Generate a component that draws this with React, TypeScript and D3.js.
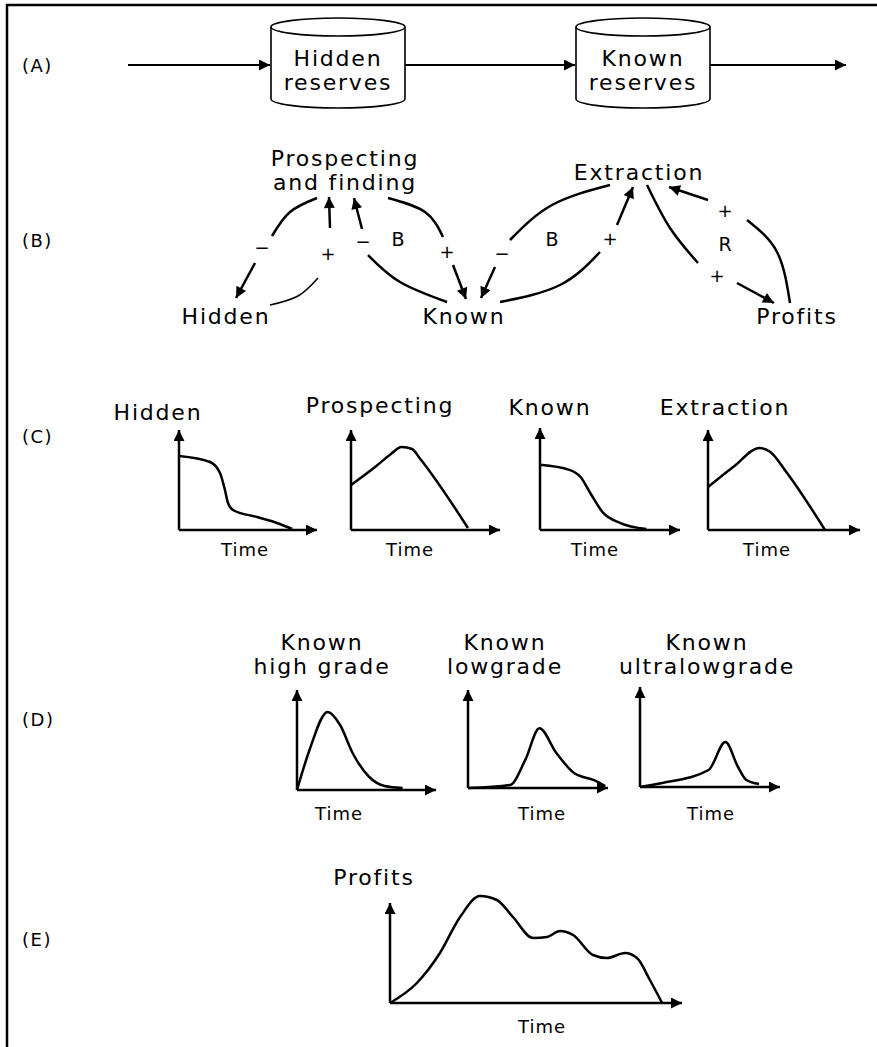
import React from 'react'
import * as d3 from 'd3'

const FONT = "'DejaVu Sans', Verdana, sans-serif"

// section letters down the left side
const sectionLabels = ['(A)', '(B)', '(C)', '(D)', '(E)']
const sectionBaselines = [72, 247, 443, 726, 946]

// (A) stock names
const stockLines = [['Hidden', 'reserves'], ['Known', 'reserves']]

// (B) causal loop nodes and polarities
const loopNodeLines = [['Prospecting', 'and finding'], ['Hidden'], ['Known'], ['Extraction'], ['Profits']]
const loopSigns = ['−', '+', '−', '+', '−', '+', '+', '+']
const loopNames = ['B', 'B', 'R']

// (C) behaviour over time, [time, level]
const hiddenSeries: [number, number][] = [[0, 0.74], [0.225, 0.68], [0.297, 0.57], [0.333, 0.4], [0.355, 0.27], [0.391, 0.2], [0.565, 0.13], [0.71, 0.07], [0.82, 0.01]]
const prospectingSeries: [number, number][] = [[0, 0.45], [0.17, 0.64], [0.26, 0.75], [0.34, 0.83], [0.41, 0.81], [0.46, 0.72], [0.785, 0.02]]
const knownSeries: [number, number][] = [[0, 0.64], [0.21, 0.59], [0.29, 0.52], [0.36, 0.36], [0.45, 0.17], [0.57, 0.07], [0.76, 0.01]]
const extractionSeries: [number, number][] = [[0, 0.43], [0.166, 0.63], [0.34, 0.82], [0.41, 0.78], [0.52, 0.57], [0.77, 0]]

// (D) grades
const highGradeSeries: [number, number][] = [[0, 0], [0.09, 0.4], [0.22, 0.78], [0.31, 0.65], [0.4, 0.37], [0.52, 0.13], [0.63, 0.04], [0.76, 0.02]]
const lowGradeSeries: [number, number][] = [[0, 0], [0.3, 0.03], [0.41, 0.29], [0.51, 0.61], [0.63, 0.36], [0.76, 0.15], [0.9, 0.08], [0.98, 0.02]]
const ultraLowGradeSeries: [number, number][] = [[0, 0], [0.16, 0.04], [0.49, 0.17], [0.61, 0.45], [0.7, 0.2], [0.76, 0.07], [0.85, 0.03]]

// (E) profits
const profitSeries: [number, number][] = [[0, 0], [0.092, 0.2], [0.171, 0.5], [0.24, 0.86], [0.308, 1.07], [0.366, 1.03], [0.421, 0.86], [0.49, 0.65], [0.538, 0.66], [0.582, 0.72], [0.627, 0.68], [0.695, 0.48], [0.743, 0.45], [0.805, 0.5], [0.846, 0.45], [0.89, 0.23], [0.932, 0]]

const timeLabel = 'Time'

// layout
const stockBoxes = [{ x1: 271, x2: 405 }, { x1: 576, x2: 710 }]
const flowArrows = [[128, 270], [405, 575], [710, 846]]
const flowY = 65

const nodePos = [[345, 166], [226, 324], [464, 324], [639, 180], [797, 324]]
const links = [
  { curve: [[317, 198], [290, 212], [272, 236]], arrow: [[255, 263], [236, 298]], sign: [262, 254], w: 2.5 },
  { curve: [[270, 305], [298, 296], [318, 278]], arrow: [[330, 228], [329, 197]], sign: [328, 260], w: 1.5 },
  { curve: [[447, 302], [400, 282], [368, 255]], arrow: [[362, 229], [354, 198]], sign: [363, 248], w: 2.5 },
  { curve: [[388, 198], [425, 212], [443, 237]], arrow: [[453, 265], [466, 299]], sign: [447, 258], w: 2.5 },
  { curve: [[610, 185], [552, 205], [510, 240]], arrow: [[495, 267], [481, 298]], sign: [502, 260], w: 2.5 },
  { curve: [[500, 302], [560, 285], [600, 252]], arrow: [[617, 225], [633, 187]], sign: [610, 245], w: 2.5 },
  { curve: [[647, 185], [670, 228], [698, 263]], arrow: [[737, 283], [774, 303]], sign: [717, 282], w: 2.5 },
  { curve: [[790, 303], [777, 252], [747, 220]], arrow: [[708, 200], [669, 187]], sign: [725, 217], w: 2.5 },
]
const loopNamePos = [[398, 246], [552, 246], [725, 251]]

type Panel = {
  series: [number, number][]; title: string[]; x0: number; y0: number; w: number; h: number
  titleX: number; titleY: number; timeX: number; timeY: number
}

const panels: Panel[] = [
  { series: hiddenSeries, title: ['Hidden'], x0: 179, y0: 530, w: 138, h: 100, titleX: 158, titleY: 420, timeX: 245, timeY: 556 },
  { series: prospectingSeries, title: ['Prospecting'], x0: 351, y0: 530, w: 149, h: 100, titleX: 380, titleY: 413, timeX: 410, timeY: 556 },
  { series: knownSeries, title: ['Known'], x0: 540, y0: 530, w: 140, h: 102, titleX: 550, titleY: 415, timeX: 595, timeY: 556 },
  { series: extractionSeries, title: ['Extraction'], x0: 708, y0: 530, w: 152, h: 100, titleX: 725, titleY: 415, timeX: 767, timeY: 556 },
  { series: highGradeSeries, title: ['Known', 'high grade'], x0: 297, y0: 790, w: 139, h: 100, titleX: 322, titleY: 650, timeX: 339, timeY: 820 },
  { series: lowGradeSeries, title: ['Known', 'lowgrade'], x0: 468, y0: 788, w: 140, h: 98, titleX: 505, titleY: 650, timeX: 542, timeY: 820 },
  { series: ultraLowGradeSeries, title: ['Known', 'ultralowgrade'], x0: 640, y0: 787, w: 140, h: 100, titleX: 707, titleY: 650, timeX: 711, timeY: 820 },
  { series: profitSeries, title: ['Profits'], x0: 390, y0: 1003, w: 292, h: 100, titleX: 374, titleY: 885, timeX: 542, timeY: 1033 },
]

const big = { fontFamily: FONT, fontSize: 22, letterSpacing: 1.8 }

function MiniChart({ p }: { p: Panel }) {
  const x = d3.scaleLinear().domain([0, 1]).range([p.x0, p.x0 + p.w])
  const y = d3.scaleLinear().domain([0, 1]).range([p.y0, p.y0 - p.h])
  const line = d3.line<[number, number]>().x(d => x(d[0])).y(d => y(d[1])).curve(d3.curveMonotoneX)
  return (
    <g>
      <line x1={x(0)} y1={y(0)} x2={x(0)} y2={y(1)} stroke="#000" strokeWidth={2.5} markerEnd="url(#ah)" />
      <line x1={x(0)} y1={y(0)} x2={x(1)} y2={y(0)} stroke="#000" strokeWidth={2.5} markerEnd="url(#ah)" />
      <path d={line(p.series) || ''} fill="none" stroke="#000" strokeWidth={2.5} />
      {p.title.map((t, i) => (
        <text key={i} x={p.titleX} y={p.titleY + i * 24} textAnchor="middle" {...big}>{t}</text>
      ))}
      <text x={p.timeX} y={p.timeY} textAnchor="middle" fontFamily={FONT} fontSize={18} letterSpacing={1}>{timeLabel}</text>
    </g>
  )
}

export default function App() {
  const curve = d3.line().curve(d3.curveNatural)
  return (
    <svg width={877} height={1047} style={{ position: 'absolute', left: 0, top: 0, background: '#fff' }}>
      <defs>
        <marker id="ah" viewBox="0 0 10 10" refX={10} refY={5} markerWidth={15} markerHeight={11} markerUnits="userSpaceOnUse" orient="auto">
          <path d="M0,0 L10,5 L0,10 z" fill="#000" />
        </marker>
      </defs>
      <line x1={7} y1={4} x2={7} y2={1047} stroke="#000" strokeWidth={2.5} />
      <line x1={6} y1={5} x2={877} y2={5} stroke="#000" strokeWidth={2.5} />

      {sectionLabels.map((l, i) => (
        <text key={l} x={22} y={sectionBaselines[i]} fontFamily={FONT} fontSize={18} letterSpacing={1.5}>{l}</text>
      ))}

      {/* (A) stock and flow */}
      {flowArrows.map(([a, b], i) => (
        <line key={i} x1={a} y1={flowY} x2={b} y2={flowY} stroke="#000" strokeWidth={2.2} markerEnd="url(#ah)" />
      ))}
      {stockBoxes.map((s, i) => {
        const rx = (s.x2 - s.x1) / 2, ry = 9, top = 27, bot = 99
        const cx = (s.x1 + s.x2) / 2
        return (
          <g key={i}>
            <path d={`M${s.x1},${top} L${s.x1},${bot} A${rx},${ry} 0 0 0 ${s.x2},${bot} L${s.x2},${top}`} fill="#fff" stroke="#000" strokeWidth={1.6} />
            <ellipse cx={cx} cy={top} rx={rx} ry={ry} fill="#fff" stroke="#000" strokeWidth={1.6} />
            {stockLines[i].map((t, j) => (
              <text key={j} x={cx} y={66 + j * 24} textAnchor="middle" {...big}>{t}</text>
            ))}
          </g>
        )
      })}

      {/* (B) causal loops */}
      {loopNodeLines.map((lines, i) => lines.map((t, j) => (
        <text key={`${i}-${j}`} x={nodePos[i][0]} y={nodePos[i][1] + j * 24} textAnchor="middle" {...big}>{t}</text>
      )))}
      {links.map((k, i) => (
        <g key={i}>
          <path d={curve(k.curve as [number, number][]) || ''} fill="none" stroke="#000" strokeWidth={k.w} />
          <line x1={k.arrow[0][0]} y1={k.arrow[0][1]} x2={k.arrow[1][0]} y2={k.arrow[1][1]} stroke="#000" strokeWidth={2.5} markerEnd="url(#ah)" />
          <text x={k.sign[0]} y={k.sign[1]} textAnchor="middle" fontFamily={FONT} fontSize={18}>{loopSigns[i]}</text>
        </g>
      ))}
      {loopNames.map((n, i) => (
        <text key={i} x={loopNamePos[i][0]} y={loopNamePos[i][1]} textAnchor="middle" fontFamily={FONT} fontSize={19}>{n}</text>
      ))}

      {/* (C)-(E) behaviour graphs */}
      {panels.map((p, i) => <MiniChart key={i} p={p} />)}
    </svg>
  )
}
